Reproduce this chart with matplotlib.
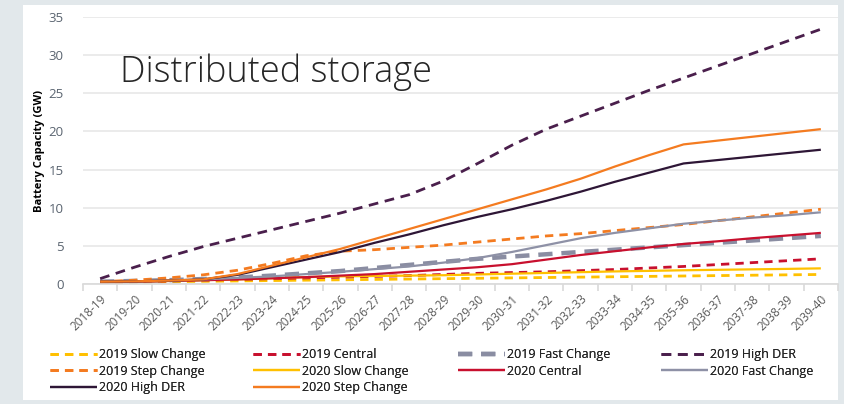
import matplotlib
matplotlib.use("Agg")
import matplotlib.pyplot as plt
from matplotlib.patches import Rectangle

years = ["2018-19", "2019-20", "2020-21", "2021-22", "2022-23", "2023-24", "2024-25",
         "2025-26", "2026-27", "2027-28", "2028-29", "2029-30", "2030-31", "2031-32",
         "2032-33", "2033-34", "2034-35", "2035-36", "2036-37", "2037-38", "2038-39", "2039-40"]

slow_2019 = [0.2, 0.25, 0.3, 0.35, 0.4, 0.45, 0.5, 0.55, 0.6, 0.65, 0.7, 0.75, 0.8, 0.85,
             0.9, 0.95, 1.0, 1.05, 1.1, 1.15, 1.2, 1.25]
central_2019 = [0.2, 0.3, 0.4, 0.5, 0.6, 0.7, 0.8, 0.9, 1.0, 1.1, 1.25, 1.4, 1.5, 1.6,
                1.75, 1.9, 2.1, 2.3, 2.55, 2.8, 3.05, 3.3]
fast_2019 = [0.3, 0.4, 0.5, 0.65, 0.85, 1.1, 1.4, 1.7, 2.1, 2.5, 2.9, 3.3, 3.6, 3.9,
             4.2, 4.5, 4.8, 5.1, 5.4, 5.7, 6.0, 6.3]
highder_2019 = [0.7, 2.2, 3.6, 4.9, 6.0, 7.1, 8.2, 9.3, 10.5, 11.7, 13.5, 15.8, 18.2, 20.3,
                22.0, 23.7, 25.4, 27.0, 28.6, 30.2, 31.8, 33.4]
step_2019 = [0.3, 0.5, 0.8, 1.2, 1.8, 2.7, 3.7, 4.3, 4.5, 4.8, 5.1, 5.5, 5.9, 6.3,
             6.6, 7.0, 7.4, 7.8, 8.3, 8.8, 9.3, 9.8]
slow_2020 = [0.2, 0.3, 0.4, 0.5, 0.6, 0.75, 0.9, 1.0, 1.05, 1.1, 1.15, 1.25, 1.35, 1.45,
             1.55, 1.65, 1.72, 1.8, 1.86, 1.92, 1.98, 2.05]
central_2020 = [0.2, 0.3, 0.4, 0.5, 0.6, 0.75, 0.9, 1.1, 1.3, 1.6, 1.9, 2.2, 2.6, 3.2,
                3.8, 4.3, 4.8, 5.25, 5.6, 6.0, 6.35, 6.7]
fast_2020 = [0.3, 0.35, 0.45, 0.6, 0.8, 1.0, 1.3, 1.6, 1.95, 2.3, 2.8, 3.4, 4.2, 5.1,
             6.0, 6.7, 7.3, 7.9, 8.3, 8.7, 9.0, 9.4]
highder_2020 = [0.3, 0.35, 0.45, 0.6, 1.2, 2.2, 3.2, 4.2, 5.4, 6.5, 7.7, 8.8, 9.8, 10.9,
                12.1, 13.4, 14.6, 15.8, 16.25, 16.7, 17.15, 17.6]
step_2020 = [0.3, 0.35, 0.45, 0.6, 1.3, 2.4, 3.5, 4.6, 5.9, 7.2, 8.5, 9.8, 11.1, 12.4,
             13.8, 15.4, 16.9, 18.3, 18.8, 19.3, 19.8, 20.3]

yticks = [0, 5, 10, 15, 20, 25, 30, 35]

GOLD = "#FFC000"
RED = "#C8102E"
GRAY = "#8E91A6"
GRAY_D = "#8A8DA2"
PURP_D = "#4A1F4C"
PURP_S = "#2E1636"
ORANGE = "#F47B20"

plt.rcParams['font.family'] = ['Open Sans', 'DejaVu Sans']

fig = plt.figure(figsize=(8.45, 4.04), dpi=100)
fig.patch.set_facecolor("#E2E8EB")
fig.add_artist(Rectangle((23 / 845, 1 - 400 / 404), (838 - 23) / 845, (400 - 5) / 404,
                         transform=fig.transFigure, facecolor="white", edgecolor="none", zorder=0))

ax = fig.add_axes([83 / 845, 1 - 284 / 404, (838 - 83) / 845, (284 - 17) / 404])
ax.set_facecolor("white")

x = list(range(len(years)))
series = [
    ("2019 Slow Change", slow_2019, dict(color=GOLD, lw=2.0, ls=(0, (3.0, 2.2)))),
    ("2019 Central", central_2019, dict(color=RED, lw=2.0, ls=(0, (3.0, 2.2)))),
    ("2019 Fast Change", fast_2019, dict(color=GRAY_D, lw=3.2, ls=(0, (3.2, 2.0)))),
    ("2019 High DER", highder_2019, dict(color=PURP_D, lw=2.0, ls=(0, (3.5, 2.4)))),
    ("2019 Step Change", step_2019, dict(color=ORANGE, lw=2.0, ls=(0, (3.0, 2.2)))),
    ("2020 Slow Change", slow_2020, dict(color=GOLD, lw=1.6, ls="-")),
    ("2020 Central", central_2020, dict(color=RED, lw=1.6, ls="-")),
    ("2020 Fast Change", fast_2020, dict(color=GRAY, lw=1.6, ls="-")),
    ("2020 High DER", highder_2020, dict(color=PURP_S, lw=1.6, ls="-")),
    ("2020 Step Change", step_2020, dict(color=ORANGE, lw=1.6, ls="-")),
]
handles = {}
for name, vals, st in series:
    (h,) = ax.plot(x, vals, label=name, solid_capstyle="butt", dash_capstyle="butt", **st)
    handles[name] = h

ax.set_xlim(-0.5, len(years) - 0.5)
ax.set_ylim(0, 35)
ax.set_yticks(yticks)
ax.set_yticklabels([str(v) for v in yticks], fontsize=9.5, color="#5A6470")
ax.grid(axis="y", color="#E8E8E8", lw=1.2)
ax.set_axisbelow(True)
for s in ["top", "right", "left"]:
    ax.spines[s].set_visible(False)
ax.spines["bottom"].set_color("#D9D9D9")
ax.spines["bottom"].set_linewidth(1.2)
ax.tick_params(axis="y", length=0, pad=14)

ax.set_xticks(x)
ax.set_xticklabels(years, rotation=45, ha="right", rotation_mode="anchor",
                   fontsize=8.5, color="#595959")
ax.tick_params(axis="x", which="major", length=0, pad=6)
ax.set_xticks([i + 0.5 for i in range(-1, len(years))], minor=True)
ax.tick_params(axis="x", which="minor", length=5, color="#D9D9D9", width=1.2)

ax.set_ylabel("Battery Capacity (GW)", fontsize=8, fontweight="bold", color="black")
ax.yaxis.set_label_coords(-(83 - 45) / 755, 0.5)

fig.text(120 / 845, 1 - 82 / 404, "Distributed storage", fontsize=26, color="#262626",
         va="baseline", ha="left", fontweight="light")

cols = [
    ["2019 Slow Change", "2019 Step Change", "2020 High DER"],
    ["2019 Central", "2020 Slow Change", "2020 Step Change"],
    ["2019 Fast Change", "2020 Central"],
    ["2019 High DER", "2020 Fast Change"],
]
col_x = [50, 253, 458, 661]
for cx, names in zip(col_x, cols):
    leg = fig.legend([handles[n] for n in names], names, loc="upper left",
                     bbox_to_anchor=(cx / 845, 1 - 348 / 404), frameon=False,
                     fontsize=9, handlelength=3.8, handletextpad=0.15,
                     labelspacing=0.3, borderaxespad=0, borderpad=0)
    for t in leg.get_texts():
        t.set_color("#262626")
    fig.add_artist(leg)

fig.savefig("out.png", dpi=100, facecolor=fig.get_facecolor())
